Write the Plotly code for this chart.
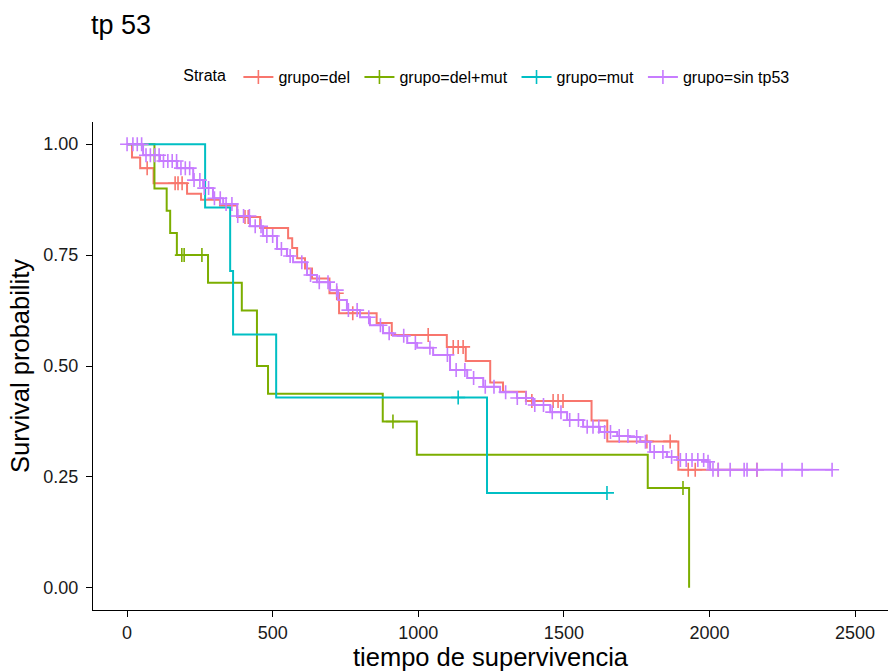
import plotly.graph_objects as go

FONT = "Liberation Sans, Arial, sans-serif"

# ---------------- data ----------------
# grupo=del : event times and survival level after each event
del_t = [17, 45, 91, 206, 254, 319, 378, 457, 553, 567, 584, 611, 635, 695, 728,
         857, 909, 1098, 1163, 1247, 1291, 1370, 1595, 1649, 1893]
del_s = [0.970, 0.946, 0.912, 0.888, 0.875, 0.862, 0.836, 0.811, 0.788, 0.766, 0.743,
         0.720, 0.697, 0.664, 0.619, 0.597, 0.570, 0.543, 0.511, 0.463, 0.442, 0.421,
         0.377, 0.330, 0.266]
del_cens = [69, 165, 175, 189, 405, 416, 720, 775, 1034, 1120, 1137, 1154, 1390, 1463,
            1480, 1497, 1785, 1865, 1927, 1951, 2030, 2163]

# grupo=del+mut
dm_t = [94, 136, 148, 171, 278, 394, 446, 484, 878, 995, 1788, 1930]
dm_s = [0.900, 0.850, 0.800, 0.750, 0.6875, 0.625, 0.500, 0.4375, 0.375, 0.300, 0.225, 0.0]
dm_cens = [188, 196, 257, 913, 1909]

# grupo=mut
mut_t = [268, 354, 364, 512, 1236]
mut_s = [0.857, 0.714, 0.571, 0.429, 0.214]
mut_cens = [1137, 1648]

# grupo=sin tp53
sin_t = [55, 113, 172, 227, 261, 295, 330, 378, 422, 467, 515, 549, 570, 618, 652, 697,
         725, 755, 800, 834, 879, 913, 962, 996, 1051, 1109, 1168, 1223, 1281, 1339,
         1394, 1453, 1511, 1566, 1624, 1683, 1727, 1762, 1796, 1854, 1889, 1933, 1992,
         2002]
sin_s = [0.975, 0.962, 0.946, 0.919, 0.901, 0.878, 0.865, 0.838, 0.815, 0.793, 0.764,
         0.748, 0.734, 0.705, 0.689, 0.671, 0.649, 0.626, 0.610, 0.592, 0.574, 0.568,
         0.552, 0.541, 0.525, 0.491, 0.473, 0.453, 0.441, 0.428, 0.412, 0.396, 0.378,
         0.363, 0.351, 0.342, 0.340, 0.329, 0.306, 0.295, 0.288, 0.288, 0.284, 0.266]
sin_cens = [0, 20, 35, 50, 65, 80, 95, 110, 125, 140, 155, 170, 185, 200, 215, 230, 250,
            265, 280, 300, 320, 340, 360, 380, 400, 420, 440, 460, 480, 500, 530, 560,
            600, 630, 660, 690, 720, 760, 790, 830, 870, 900, 950, 990, 1040, 1100, 1130,
            1160, 1190, 1230, 1260, 1300, 1340, 1370, 1400, 1430, 1460, 1490, 1520, 1550,
            1580, 1600, 1620, 1640, 1660, 1690, 1720, 1750, 1780, 1810, 1840, 1870, 1900,
            1920, 1940, 1960, 1980, 1995, 2012, 2030, 2071, 2119, 2129, 2163, 2249, 2318,
            2421]

names = ["grupo=del", "grupo=del+mut", "grupo=mut", "grupo=sin tp53"]
colors = ["#F8766D", "#7CAE00", "#00BFC4", "#C77CFF"]
x_ticks = [0, 500, 1000, 1500, 2000, 2500]
y_ticks = [0, 0.25, 0.5, 0.75, 1.0]
y_ticktext = ["0.00", "0.25", "0.50", "0.75", "1.00"]


def level_at(t, ts, ss):
    s = 1.0
    for ti, si in zip(ts, ss):
        if ti <= t:
            s = si
    return s


series = [(del_t, del_s, del_cens), (dm_t, dm_s, dm_cens),
          (mut_t, mut_s, mut_cens), (sin_t, sin_s, sin_cens)]

fig = go.Figure()
for (ts, ss, cens), name, col in zip(series, names, colors):
    xs = [0] + ts
    ys = [1.0] + ss
    end = max(cens) if cens else ts[-1]
    if end > xs[-1]:
        xs.append(end)
        ys.append(ys[-1])
    fig.add_trace(go.Scatter(x=xs, y=ys, mode="lines", line=dict(color=col, width=2, shape="hv"),
                             showlegend=False, hoverinfo="skip"))
    fig.add_trace(go.Scatter(x=cens, y=[level_at(c, ts, ss) for c in cens], mode="markers",
                             marker=dict(symbol="cross-thin", size=10,
                                         line=dict(color=col, width=1.6)),
                             showlegend=False, hoverinfo="skip"))
    fig.add_trace(go.Scatter(x=[None], y=[None], mode="lines+markers", name=name + " ",
                             line=dict(color=col, width=2),
                             marker=dict(symbol="cross-thin", size=10,
                                         line=dict(color=col, width=1.6))))

fig.update_layout(
    width=888, height=671,
    margin=dict(l=93, r=0, t=122, b=61),
    paper_bgcolor="white", plot_bgcolor="white",
    font=dict(family=FONT, color="black"),
    title=dict(text="tp 53", x=91 / 888, xref="container",
               xanchor="left", y=1 - 25 / 671, yanchor="middle",
               font=dict(size=27, family=FONT, color="black")),
    legend=dict(orientation="h", x=0.111, xanchor="left", y=1.092, yanchor="middle",
                title=dict(text="Strata ", side="left", font=dict(size=16)),
                font=dict(size=16, family=FONT), itemwidth=30,
                bgcolor="rgba(0,0,0,0)"),
    showlegend=True,
)
fig.update_xaxes(range=[-117, 2613], tickvals=x_ticks, showline=True, linecolor="black",
                 linewidth=1.2, ticks="outside", ticklen=6, tickcolor="black", tickwidth=1.2,
                 showgrid=False, zeroline=False, tickfont=dict(size=18, color="#1a1a1a"),
                 title=dict(text="tiempo de supervivencia", font=dict(size=25.5), standoff=6))
fig.update_yaxes(range=[-0.05, 1.05], tickvals=y_ticks, ticktext=y_ticktext, showline=True,
                 linecolor="black", linewidth=1.2, ticks="outside", ticklen=6,
                 tickcolor="black", tickwidth=1.2, showgrid=False, zeroline=False,
                 ticklabelstandoff=4,
                 tickfont=dict(size=18, color="#1a1a1a"),
                 title=dict(text="Survival probability", font=dict(size=25.5), standoff=6))

fig.write_html("out.html")
